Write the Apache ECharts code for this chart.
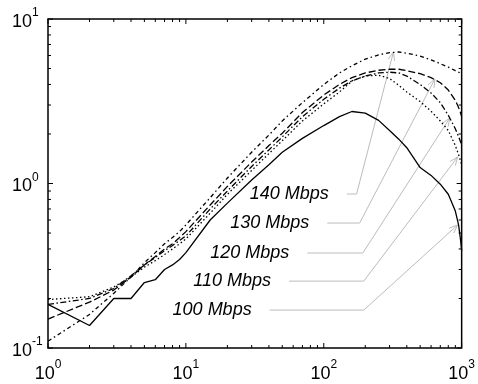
<!DOCTYPE html>
<html><head><meta charset="utf-8">
<script src="https://cdn.jsdelivr.net/npm/echarts@6/dist/echarts.min.js"></script>
<style>html,body{margin:0;padding:0;background:#fff}#c{width:478px;height:384px}</style>
</head><body><div id="c"></div>
<script>
const xValues = [1,2,3,4,5,6,7,8,9,10,15,20,30,40,50,70,100,130,160,200,250,300,350,400,500,600,700,800,900,950,980,1000];
const mbps100 = [0.184,0.137,0.2,0.2,0.25,0.26,0.3,0.32,0.345,0.38,0.6,0.76,1.05,1.3,1.55,1.88,2.25,2.55,2.74,2.68,2.42,2.1,1.86,1.65,1.25,1.12,0.99,0.86,0.68,0.56,0.46,0.39];
const mbps110 = [0.197,0.205,0.235,0.27,0.31,0.34,0.37,0.4,0.43,0.46,0.66,0.86,1.2,1.52,1.82,2.4,3.05,3.6,4.2,4.5,4.55,4.35,3.95,3.6,3.15,2.75,2.4,2.1,1.7,1.5,1.38,1.3];
const mbps120 = [0.184,0.2,0.23,0.275,0.32,0.355,0.39,0.42,0.45,0.48,0.7,0.9,1.27,1.6,1.92,2.55,3.25,3.8,4.2,4.5,4.7,4.75,4.7,4.5,4.0,3.55,3.1,2.6,2.15,1.93,1.8,1.72];
const mbps130 = [0.15,0.19,0.225,0.27,0.32,0.36,0.4,0.43,0.47,0.51,0.74,0.96,1.35,1.7,2.02,2.7,3.45,4.0,4.4,4.7,4.88,4.95,4.95,4.85,4.65,4.4,4.1,3.7,3.2,2.9,2.7,2.55];
const mbps140 = [0.11,0.16,0.215,0.27,0.33,0.38,0.43,0.47,0.51,0.56,0.82,1.08,1.55,1.97,2.4,3.1,4.0,4.7,5.2,5.7,6.05,6.25,6.3,6.2,5.95,5.65,5.35,5.1,4.85,4.75,4.7,4.65];

const xMajorTicks = [1,10,100,1000];
const xMinorTicks = [2,3,4,5,6,7,8,9,20,30,40,50,60,70,80,90,200,300,400,500,600,700,800,900];
const yMajorTicks = [0.1,1,10];
const yMinorTicks = [0.2,0.3,0.4,0.5,0.6,0.7,0.8,0.9,2,3,4,5,6,7,8,9];

const annLabels = ['140 Mbps','130 Mbps','120 Mbps','110 Mbps','100 Mbps'];
const annStart = [[147,0.863],[106,0.575],[76,0.378],[56,0.255],[40.5,0.170]];
const annElbow = [[173,0.863],[182,0.575],[192,0.378],[195,0.255],[195,0.170]];
const annTip   = [[320,6.3],[640,4.32],[820,2.5],[936,1.45],[936,0.56]];

const chart = echarts.init(document.getElementById('c'), null, {renderer:'canvas'});
const FONT = '"Liberation Sans", Arial, sans-serif';
const pairs = ys => xValues.map((x,i)=>[x, ys[i]]);

function xTickItem(len){ return function(params, api){
  const x = api.coord([api.value(0), 1])[0];
  const yb = api.coord([1, 0.1])[1], yt = api.coord([1, 10])[1];
  return {type:'group', children:[
    {type:'line', shape:{x1:x,y1:yb,x2:x,y2:yb-len}, style:{stroke:'#000',lineWidth:1}},
    {type:'line', shape:{x1:x,y1:yt,x2:x,y2:yt+len}, style:{stroke:'#000',lineWidth:1}}
  ]};
};}
function yTickItem(len){ return function(params, api){
  const y = api.coord([1, api.value(1)])[1];
  const xl = api.coord([1, 1])[0], xr = api.coord([1000, 1])[0];
  return {type:'group', children:[
    {type:'line', shape:{x1:xl,y1:y,x2:xl+len,y2:y}, style:{stroke:'#000',lineWidth:1}},
    {type:'line', shape:{x1:xr,y1:y,x2:xr-len,y2:y}, style:{stroke:'#000',lineWidth:1}}
  ]};
};}
function annItem(params, api){
  const i = params.dataIndex;
  const s = api.coord(annStart[i]), e = api.coord(annElbow[i]), t = api.coord(annTip[i]);
  const ang = Math.atan2(t[1]-e[1], t[0]-e[0]);
  const L = 9, a = 0.38;
  const h1 = [t[0]-L*Math.cos(ang-a), t[1]-L*Math.sin(ang-a)];
  const h2 = [t[0]-L*Math.cos(ang+a), t[1]-L*Math.sin(ang+a)];
  return {type:'group', children:[
    {type:'polyline', shape:{points:[s,e,t]}, style:{stroke:'#bcbcbc', lineWidth:1, fill:null}},
    {type:'polyline', shape:{points:[h1,t,h2]}, style:{stroke:'#bcbcbc', lineWidth:1, fill:null}},
    {type:'text', x:s[0]-18, y:s[1], style:{text:annLabels[i], fill:'#000', fontSize:18, fontStyle:'italic', fontFamily:'Liberation Sans', align:'right', verticalAlign:'middle'}}
  ]};
}
const lab = v => '{b|10}{s|' + Math.round(Math.log10(v)) + '}';
const rich = {
  b:{fontSize:18, fontFamily:FONT, color:'#000', lineHeight:24, verticalAlign:'bottom'},
  s:{fontSize:12, fontFamily:FONT, color:'#000', lineHeight:12, verticalAlign:'top'}
};
function lineSeries(name, ys, type, w){
  return {type:'line', name, data:pairs(ys), showSymbol:false, symbol:'none', z:3,
    lineStyle:{color:'#000', width:w, type:type}};
}
chart.setOption({
  animation:false,
  backgroundColor:'#fff',
  grid:{left:48, right:12, top:19, bottom:36, show:true, borderColor:'#000', borderWidth:1.5},
  xAxis:{type:'log', logBase:10, min:1, max:1000,
    axisLine:{show:false}, axisTick:{show:false}, splitLine:{show:false},
    axisLabel:{formatter:lab, rich, margin:11, showMinLabel:true, showMaxLabel:true}},
  yAxis:{type:'log', logBase:10, min:0.1, max:10,
    axisLine:{show:false}, axisTick:{show:false}, splitLine:{show:false},
    axisLabel:{formatter:lab, rich, margin:36, align:'left', showMinLabel:true, showMaxLabel:true}},
  series:[
    {type:'custom', renderItem:annItem, data:annTip.map(p=>[p[0],p[1]]), clip:false, z:1, silent:true},
    {type:'custom', renderItem:xTickItem(5), data:xMajorTicks.map(v=>[v,1]), clip:false, z:4, silent:true},
    {type:'custom', renderItem:xTickItem(3), data:xMinorTicks.map(v=>[v,1]), clip:false, z:4, silent:true},
    {type:'custom', renderItem:yTickItem(5), data:yMajorTicks.map(v=>[1,v]), clip:false, z:4, silent:true},
    {type:'custom', renderItem:yTickItem(3), data:yMinorTicks.map(v=>[1,v]), clip:false, z:4, silent:true},
    lineSeries('100 Mbps', mbps100, 'solid', 1.3),
    lineSeries('110 Mbps', mbps110, [1.5,2.5], 1.3),
    lineSeries('120 Mbps', mbps120, [6,2.5,1.5,2.5], 1.3),
    lineSeries('130 Mbps', mbps130, [7,3], 1.3),
    lineSeries('140 Mbps', mbps140, [4,3,1.5,3], 1.3)
  ]
});
</script></body></html>
